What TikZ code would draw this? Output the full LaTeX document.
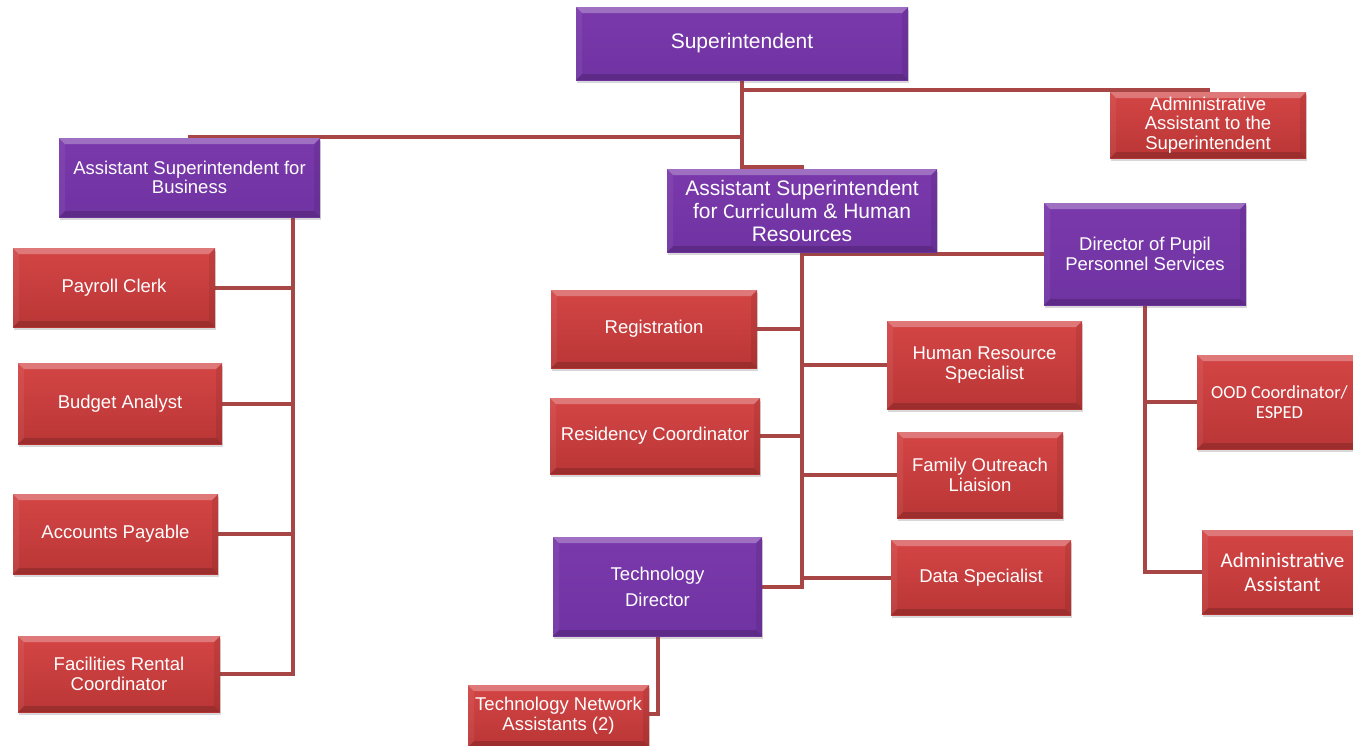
\documentclass[tikz,border=0pt]{standalone}
\usepackage{fontspec}
\setmainfont{Liberation Sans}
\newfontfamily\calfont{Carlito}
\usetikzlibrary{shadows,backgrounds}
\definecolor{purpA}{HTML}{7A39AB}
\definecolor{purpB}{HTML}{7033A2}
\definecolor{redA}{HTML}{D44545}
\definecolor{redB}{HTML}{BA3636}
\definecolor{linkc}{HTML}{A84646}
\tikzset{
  bevel/.style={path picture={
    \fill[white,opacity=.28] (path picture bounding box.north west) -- (path picture bounding box.north east)
      -- ([shift={(-6pt,-6pt)}]path picture bounding box.north east) -- ([shift={(6pt,-6pt)}]path picture bounding box.north west) -- cycle;
    \fill[black,opacity=.16] (path picture bounding box.south west) -- (path picture bounding box.south east)
      -- ([shift={(-6pt,6pt)}]path picture bounding box.south east) -- ([shift={(6pt,6pt)}]path picture bounding box.south west) -- cycle;
    \fill[black,opacity=.08] (path picture bounding box.north east) -- (path picture bounding box.south east)
      -- ([shift={(-6pt,6pt)}]path picture bounding box.south east) -- ([shift={(-6pt,-6pt)}]path picture bounding box.north east) -- cycle;
    \fill[white,opacity=.06] (path picture bounding box.north west) -- (path picture bounding box.south west)
      -- ([shift={(6pt,6pt)}]path picture bounding box.south west) -- ([shift={(6pt,-6pt)}]path picture bounding box.north west) -- cycle;
  }},
  orgbox/.style={rectangle, inner sep=0pt, align=center, text=white,
    font=\fontsize{18.5}{20}\selectfont, bevel,
    drop shadow={shadow xshift=1pt, shadow yshift=-3pt, opacity=.22, fill=black!70}},
  pbox/.style={orgbox, top color=purpA, bottom color=purpB},
  rbox/.style={orgbox, top color=redA, bottom color=redB},
  link/.style={draw=linkc, line width=4pt},
}
\begin{document}
\begin{tikzpicture}[x=1pt,y=-1pt]
\useasboundingbox (0,0) rectangle (1353,745);
% top level
\node[pbox, minimum width=332pt, minimum height=73pt, font=\fontsize{21}{23}\selectfont] (sup) at (742,43.5) {Superintendent};
\node[rbox, minimum width=196pt, minimum height=66pt, font=\fontsize{18.5}{19.5}\selectfont] (aat) at (1208,125) {Administrative\\Assistant to the\\Superintendent};
\node[pbox, minimum width=261pt, minimum height=79pt, font=\fontsize{18.5}{19}\selectfont] (bus) at (189.5,177.5) {Assistant Superintendent for\\Business};
\node[pbox, minimum width=270pt, minimum height=83pt, font=\fontsize{21}{23}\selectfont] (curr) at (802,210.5) {Assistant Superintendent\\for {\calfont Curriculum} \& Human\\Resources};
\node[pbox, minimum width=202pt, minimum height=102pt] (dps) at (1145,254) {Director of Pupil\\Personnel Services};
% business
\node[rbox, minimum width=202pt, minimum height=79pt] (pay) at (114,287.5) {Payroll Clerk};
\node[rbox, minimum width=204pt, minimum height=81pt] (bud) at (120,403.5) {Budget Analyst};
\node[rbox, minimum width=205pt, minimum height=80pt] (acc) at (115.5,534) {Accounts Payable};
\node[rbox, minimum width=202pt, minimum height=76pt] (fac) at (119,674) {Facilities Rental\\Coordinator};
% curriculum
\node[rbox, minimum width=206pt, minimum height=78pt] (reg) at (654,329) {Registration};
\node[rbox, minimum width=210pt, minimum height=76pt] (res) at (655,436) {Residency Coordinator};
\node[pbox, minimum width=209pt, minimum height=99pt, font=\fontsize{18.5}{26}\selectfont] (tech) at (657.5,586.5) {Technology\\Director};
\node[rbox, minimum width=181pt, minimum height=62pt] (tna) at (558.5,716) {Technology Network\\Assistants (2)};
\node[rbox, minimum width=195pt, minimum height=88pt] (hr) at (984.5,365) {Human Resource\\Specialist};
\node[rbox, minimum width=166pt, minimum height=86pt] (fam) at (980,475) {Family Outreach\\Liaision};
\node[rbox, minimum width=180pt, minimum height=75pt] (data) at (981,577.5) {Data Specialist};
% pupil services
\node[rbox, minimum width=165pt, minimum height=94pt, font=\calfont\fontsize{18.4}{20}\selectfont] (ood) at (1279.5,402) {OOD Coordinator/\\ESPED};
\node[rbox, minimum width=161pt, minimum height=84pt, font=\calfont\fontsize{21}{24}\selectfont] (aa) at (1282.5,572) {Administrative\\Assistant};
% connectors
\begin{pgfonlayer}{background}
\draw[link] (sup.south) |- ([yshift=2pt]curr.north) -- (curr.north);
\draw[link] (sup.south) |- ([yshift=2pt]aat.north) -- (aat.north);
\draw[link] (sup.south) |- ([yshift=1pt]bus.north) -- (bus.north);
\coordinate (bt) at ([xshift=-27pt]bus.south east);
\draw[link] (bt) |- (fac.east);
\draw[link] (pay.east) -| (bt);
\draw[link] (bud.east) -| (bt);
\draw[link] (acc.east) -| (bt);
\draw[link] (curr.south) |- (tech.east);
\draw[link] (reg.east) -| (curr.south);
\draw[link] (res.east) -| (curr.south);
\draw[link] (curr.south) |- (hr.west);
\draw[link] (curr.south) |- (fam.west);
\draw[link] (curr.south) |- (data.west);
\draw[link] (curr.south) |- (dps.west);
\draw[link] (tech.south) |- ([yshift=2pt]tna.east);
\draw[link] (dps.south) |- (aa.west);
\draw[link] (ood.west) -| (dps.south);
\end{pgfonlayer}
\end{tikzpicture}
\end{document}
